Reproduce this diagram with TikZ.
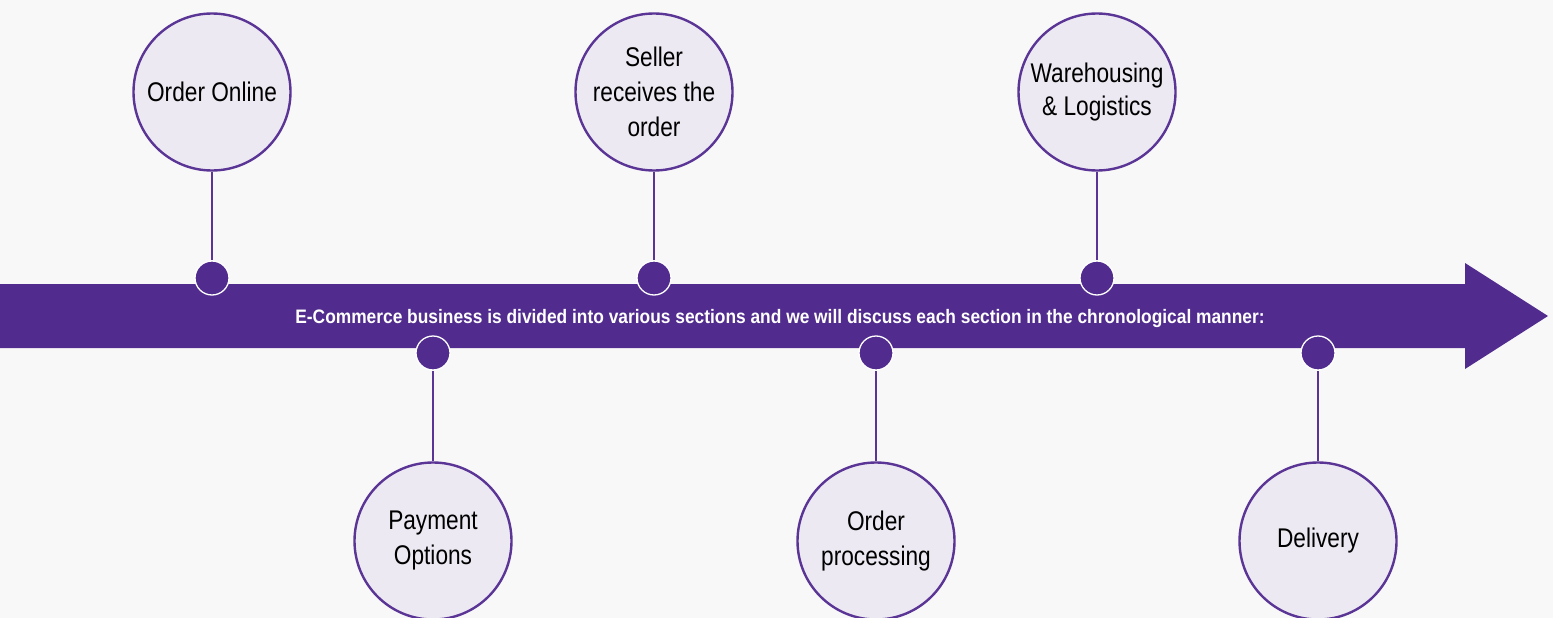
\documentclass[tikz,border=0pt]{standalone}
\usepackage{fontspec}
\setmainfont[FakeStretch=0.84]{Liberation Sans}
\newfontfamily\bannerfont[FakeStretch=0.89]{Liberation Sans}
\definecolor{bandpurple}{HTML}{512C8E}
\definecolor{ringpurple}{HTML}{5B3596}
\definecolor{lav}{HTML}{ECE9F2}
\definecolor{bg}{HTML}{F8F8F8}
\begin{document}
\begin{tikzpicture}[x=1pt,y=-1pt,
  stage/.style={circle,draw=ringpurple,line width=2.4pt,fill=lav,minimum size=157pt,inner sep=0pt,
    align=center,font=\fontsize{27}{35}\selectfont,text=black},
  dot/.style={circle,draw=white,line width=1.3pt,fill=bandpurple,minimum size=34pt,inner sep=0pt},
  stem/.style={draw=ringpurple,line width=1.3pt}]
\useasboundingbox (0,0) rectangle (1553,618);
\fill[bg] (0,0) rectangle (1553,618);
% arrow band
\fill[bandpurple] (0,284) -- (1465,284) -- (1465,263) -- (1548,316) -- (1465,369) -- (1465,348) -- (0,348) -- cycle;
% dots
\node[dot] (d1) at (212,278) {};
\node[dot] (d2) at (654,278) {};
\node[dot] (d3) at (1097,278) {};
\node[dot] (d4) at (433,353) {};
\node[dot] (d5) at (876,353) {};
\node[dot] (d6) at (1318,353) {};
% circles
\node[stage] (c1) at (212,92) {Order Online};
\node[stage] (c2) at (654,92) {Seller\\receives the\\order};
\node[stage] (c3) at (1097,92) {\raisebox{-2pt}{Warehousing}\\\&{} Logistics};
\node[stage] (c4) at (433,541) {\raisebox{-3pt}{Payment}\\\raisebox{-3pt}{Options}};
\node[stage] (c5) at (876,541) {\raisebox{-3pt}{Order}\\\raisebox{-3pt}{processing}};
\node[stage] (c6) at (1318,541) {\raisebox{-3pt}{Delivery}};
% stems
\draw[stem] (c1.south) -- (d1.north);
\draw[stem] (c2.south) -- (d2.north);
\draw[stem] (c3.south) -- (d3.north);
\draw[stem] (c4.north) -- (d4.south);
\draw[stem] (c5.north) -- (d5.south);
\draw[stem] (c6.north) -- (d6.south);
% banner text
\node[text=white,font=\bannerfont\bfseries\fontsize{19.5}{22}\selectfont,inner sep=0pt] (banner) at (780,318)
  {E-Commerce business is divided into various sections and we will discuss each section in the chronological manner:};
\end{tikzpicture}
\end{document}
